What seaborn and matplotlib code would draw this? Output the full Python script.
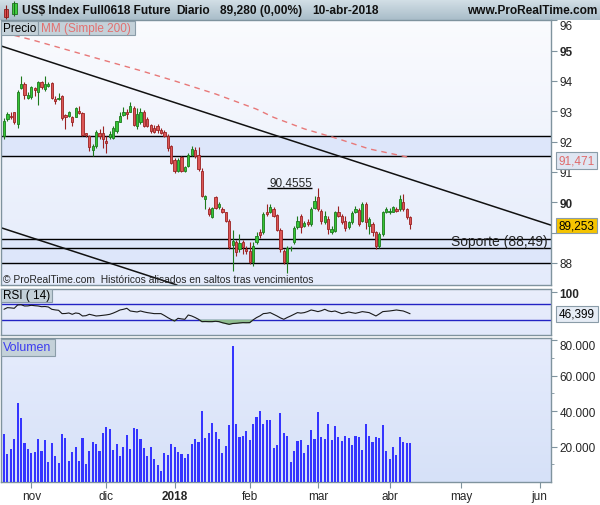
import numpy as np
import pandas as pd
import seaborn as sns
import matplotlib.pyplot as plt
from matplotlib.colors import LinearSegmentedColormap
from matplotlib.patches import Rectangle
from matplotlib.transforms import Affine2D

sns.set_style('white')
plt.rcParams['font.family'] = ['Liberation Sans', 'DejaVu Sans']

# trading days shown on the chart (holidays without a bar are skipped)
HOLIDAYS = ['2017-12-25', '2018-01-01', '2018-03-30']
dates = pd.bdate_range('2017-10-20', '2018-04-10', freq='C', holidays=HOLIDAYS)

opens = [92.20, 92.74, 92.85, 92.96, 92.58, 93.76, 93.90, 93.43, 93.46, 93.78,
         93.62, 93.95, 93.73, 93.84, 93.93, 93.42, 93.40, 93.51, 92.88, 92.85,
         92.80, 92.82, 93.02, 92.94, 92.27, 92.20, 91.72, 91.86, 92.27, 92.28,
         92.03, 92.14, 92.11, 92.36, 92.66, 92.88, 92.99, 92.99, 93.10, 92.50,
         92.63, 92.99, 92.74, 92.55, 92.44, 92.52, 92.39, 92.33, 92.20, 91.84,
         91.40, 91.04, 91.48, 91.04, 91.21, 91.56, 91.72, 91.56, 91.04, 90.11,
         89.78, 89.50, 90.16, 89.86, 89.78, 89.67, 89.40, 88.59, 88.68, 88.46,
         88.70, 88.46, 88.41, 88.02, 88.68, 89.01, 89.01, 89.69, 89.69, 89.78,
         89.58, 89.10, 88.41, 88.02, 88.48, 88.68, 89.17, 89.55, 89.23, 89.36,
         89.28, 89.80, 90.16, 89.72, 89.34, 89.45, 89.01, 89.06, 89.67, 89.56,
         89.39, 89.17, 89.34, 89.69, 89.75, 89.39, 89.94, 89.23, 89.28, 89.01,
         88.57, 88.95, 89.69, 89.67, 89.69, 89.78, 89.78, 90.00, 89.78, 89.50]
highs = [92.77, 92.99, 92.97, 92.99, 93.71, 94.17, 93.95, 93.62, 93.84, 93.80,
         94.01, 94.01, 94.17, 93.95, 93.95, 93.51, 93.61, 93.53, 92.91, 93.02,
         92.85, 93.13, 93.16, 92.96, 92.30, 92.22, 91.93, 92.39, 92.41, 92.50,
         92.20, 92.36, 92.53, 92.69, 92.96, 93.13, 93.07, 93.29, 93.18, 93.10,
         93.10, 93.05, 92.80, 92.58, 92.55, 92.58, 92.44, 92.37, 92.25, 91.89,
         91.45, 91.45, 91.53, 91.21, 91.64, 91.84, 91.81, 91.81, 91.12, 90.25,
         89.83, 89.86, 90.22, 90.00, 89.83, 89.69, 89.45, 89.09, 88.77, 88.95,
         88.77, 88.55, 88.68, 88.68, 89.01, 89.12, 89.69, 89.94, 89.94, 89.83,
         89.61, 89.14, 88.46, 88.57, 88.57, 89.23, 89.55, 89.61, 89.39, 89.45,
         89.83, 90.22, 90.46, 89.78, 89.72, 89.56, 89.23, 89.72, 89.89, 89.61,
         89.56, 89.39, 89.72, 89.89, 89.80, 90.00, 90.00, 89.50, 89.34, 89.06,
         89.01, 89.72, 89.83, 89.80, 89.89, 89.83, 90.24, 90.27, 89.80, 89.56]
lows = [92.09, 92.69, 92.74, 92.58, 92.44, 93.73, 93.40, 93.40, 93.40, 93.50,
        93.20, 93.73, 93.68, 93.79, 93.40, 93.24, 93.38, 92.72, 92.40, 92.80,
        92.53, 92.80, 92.91, 92.19, 92.14, 91.70, 91.51, 91.80, 92.09, 91.80,
        91.64, 92.09, 92.09, 92.30, 92.63, 92.85, 92.74, 92.96, 92.50, 92.41,
        92.58, 92.47, 92.47, 92.30, 92.28, 92.30, 92.25, 92.14, 91.70, 91.26,
        90.96, 90.99, 90.99, 90.99, 91.15, 91.51, 91.45, 91.04, 90.16, 89.77,
        89.56, 89.47, 89.77, 89.77, 89.65, 89.34, 88.46, 87.74, 88.24, 88.37,
        88.29, 88.30, 87.96, 87.91, 88.62, 88.84, 88.95, 89.56, 89.65, 89.50,
        89.06, 88.35, 87.96, 87.68, 88.40, 88.62, 89.12, 89.00, 89.17, 89.23,
        89.23, 89.78, 89.72, 89.28, 89.28, 88.95, 88.95, 89.01, 89.50, 89.28,
        89.06, 89.12, 89.28, 89.64, 89.23, 89.34, 89.12, 88.95, 88.90, 88.46,
        88.51, 88.90, 89.64, 89.61, 89.67, 89.67, 89.72, 89.72, 89.45, 89.12]
closes = [92.69, 92.91, 92.80, 92.63, 93.62, 93.90, 93.54, 93.54, 93.79, 93.69,
          93.95, 93.79, 93.90, 93.90, 93.43, 93.35, 93.45, 92.77, 92.80, 92.96,
          92.66, 93.10, 92.94, 92.22, 92.22, 91.81, 91.86, 92.32, 92.20, 92.09,
          91.95, 92.25, 92.44, 92.67, 92.85, 92.99, 92.91, 93.16, 92.55, 92.91,
          92.99, 92.52, 92.52, 92.36, 92.33, 92.39, 92.30, 92.20, 91.78, 91.30,
          91.04, 91.40, 91.04, 91.15, 91.56, 91.75, 91.53, 91.10, 90.22, 90.22,
          89.61, 89.80, 89.80, 89.94, 89.69, 89.40, 88.52, 88.73, 88.37, 88.66,
          88.52, 88.41, 88.02, 88.55, 88.90, 88.93, 89.61, 89.61, 89.86, 89.56,
          89.10, 88.46, 88.02, 88.51, 88.51, 89.14, 89.39, 89.17, 89.31, 89.28,
          89.78, 90.05, 89.78, 89.39, 89.56, 89.12, 89.12, 89.67, 89.56, 89.34,
          89.14, 89.34, 89.64, 89.78, 89.28, 89.94, 89.34, 89.45, 89.01, 88.57,
          88.95, 89.67, 89.78, 89.72, 89.83, 89.72, 90.11, 89.78, 89.50, 89.28]
volumes = [27200, 16000, 18800, 24400, 44700, 36200, 22200, 18800, 16500, 17100,
           24400, 17700, 23900, 11500, 22200, 14800, 10900, 27200, 25000, 12000,
           17100, 19900, 12000, 25000, 10300, 17700, 22700, 21600, 17700, 27800,
           31200, 30000, 18200, 21600, 14800, 19900, 26700, 18800, 30600, 30000,
           24400, 19300, 14800, 19900, 13100, 9800, 6400, 16500, 15400, 21600,
           19900, 17100, 16000, 13700, 16000, 21600, 24400, 22700, 40200, 25000,
           27800, 33400, 28400, 24400, 16500, 20500, 32300, 76800, 32900, 25500,
           26100, 28900, 23900, 32900, 36800, 40200, 32900, 35100, 35100, 19300,
           21000, 39100, 27800, 26100, 11500, 17700, 23300, 23900, 16500, 21000,
           29500, 24400, 39600, 25500, 24400, 32900, 23900, 31700, 25500, 23300,
           26100, 25000, 21000, 26100, 25500, 18200, 32900, 26100, 22700, 25500,
           25000, 32300, 17700, 13100, 19900, 15400, 25500, 22700, 22200, 22200]
rsi = [57.5, 61.7, 61.0, 60.0, 68.3, 69.0, 65.8, 66.0, 67.5, 66.5,
       65.8, 64.0, 64.5, 63.3, 57.5, 56.0, 55.0, 46.7, 47.0, 48.3,
       45.0, 48.3, 47.0, 40.8, 41.5, 45.0, 43.0, 40.8, 41.5, 42.5,
       43.5, 45.0, 48.0, 51.7, 55.8, 57.5, 60.0, 53.3, 52.0, 50.8,
       53.3, 51.0, 49.2, 48.0, 46.7, 46.7, 46.7, 42.0, 36.7, 32.0,
       28.3, 35.0, 33.5, 32.5, 43.3, 40.8, 37.0, 32.5, 26.7, 27.0,
       26.7, 26.7, 27.5, 26.7, 24.0, 22.0, 20.0, 22.0, 22.5, 23.5,
       24.2, 24.0, 24.2, 31.0, 36.7, 41.0, 46.7, 47.5, 49.2, 45.0,
       40.8, 36.0, 32.5, 37.0, 40.8, 45.0, 49.2, 48.0, 49.2, 52.0,
       55.8, 54.0, 51.7, 54.0, 57.5, 53.5, 51.7, 53.3, 50.0, 46.7,
       48.5, 50.8, 49.0, 47.5, 49.5, 51.7, 50.5, 49.2, 45.0, 40.8,
       46.0, 51.7, 52.5, 53.3, 54.5, 55.8, 54.5, 53.3, 50.0, 46.4]

sma_dates = ['2017-10-25', '2017-11-01', '2017-11-29', '2017-12-15', '2018-01-02',
             '2018-01-18', '2018-02-05', '2018-02-12', '2018-02-23', '2018-03-09',
             '2018-03-22', '2018-04-06', '2018-04-10']
sma_values = [95.50, 95.36, 94.72, 94.34, 94.00, 93.57, 93.07, 92.80, 92.42, 92.09,
              91.76, 91.52, 91.47]

zone_levels = [92.17, 91.52, 88.79, 88.49, 88.0]
trend_upper = [('2017-10-20', 95.12), ('2018-04-10', 90.76)]
trend_lower = [('2017-10-20', 89.13), ('2018-01-02', 87.30)]
peak_dates = ['2018-02-08', '2018-02-27']
peak_level = 90.4555

month_starts = ['2017-11-01', '2017-12-01', '2018-01-02', '2018-02-01', '2018-03-01',
                '2018-04-02', '2018-05-01', '2018-06-01']
month_labels = ['nov', 'dic', '2018', 'feb', 'mar', 'abr', 'may', 'jun']


def to_pos(d):
    # bar index on the trading-day axis
    d = np.asarray(d, dtype='datetime64[D]')
    return np.busday_count(np.datetime64('2017-10-20'), d,
                           holidays=np.array(HOLIDAYS, dtype='datetime64[D]'))


pos = to_pos(dates.values.astype('datetime64[D]'))
o, h, l, c = map(np.asarray, (opens, highs, lows, closes))
rsi = np.asarray(rsi)

W, H = 600, 506
fig = plt.figure(figsize=(6, 5.06), dpi=100)
px = Affine2D().scale(1 / W, -1 / H).translate(0, 1) + fig.transFigure


def frame(x0, y0, x1, y1):
    return [x0 / W, 1 - y1 / H, (x1 - x0) / W, (y1 - y0) / H]


def gradient(ax, top, bottom):
    cmap = LinearSegmentedColormap.from_list('bg', [bottom, top])
    ax.imshow(np.linspace(0, 1, 64).reshape(-1, 1), cmap=cmap, origin='lower',
              extent=[0, 1, 0, 1], transform=ax.transAxes, aspect='auto', zorder=0)


def box(x0, y0, x1, y1, fill, edge='#8a9ca8'):
    fig.add_artist(Rectangle((x0, y0), x1 - x0, y1 - y0, transform=px,
                             facecolor=fill, edgecolor=edge, lw=0.8, zorder=5))


def label(x, y, s, color='black', size=8.5, ha='left', weight='normal'):
    fig.text(x, y, s, transform=px, color=color, fontsize=size, ha=ha, va='center',
             fontweight=weight, zorder=6)


XLIM = (-0.88, 160.3)
GRAY = '#7f939e'

# title bar
ax_t = fig.add_axes(frame(0, 0, 600, 21))
ax_t.imshow(np.linspace(0, 1, 32).reshape(-1, 1),
            cmap=LinearSegmentedColormap.from_list('tb', ['#d4e0e7', '#a9bdc9']),
            extent=[0, 600, 21, 0], aspect='auto')
ax_t.set_xlim(0, 600)
ax_t.set_ylim(21, 0)
ax_t.axis('off')
ax_t.vlines([5.5, 14], [6, 1.5], [20, 17], colors=['#8b1c1c', '#1c6e1c'], lw=0.8)
ax_t.add_patch(Rectangle((3.5, 9.5), 4.5, 8.5, facecolor='#e05050', edgecolor='#8b1c1c', lw=0.6))
ax_t.add_patch(Rectangle((11.5, 3.5), 5, 11, facecolor='#40d040', edgecolor='#1c6e1c', lw=0.6))
for x, s in [(22, 'US$ Index Full0618 Future'), (176, 'Diario'),
             (220, '89,280 (0,00%)'), (312, '10-abr-2018')]:
    ax_t.text(x, 11, s, fontsize=8.6, fontweight='bold', va='center', color='#111111')
ax_t.text(597, 11, 'www.ProRealTime.com', fontsize=8.6, fontweight='bold', va='center',
          ha='right', color='#111111')

# price panel
ax_p = fig.add_axes(frame(1, 21, 551, 286))
gradient(ax_p, '#fafbfe', '#e4ebfb')
ax_p.axhspan(zone_levels[1], zone_levels[0], color='#dde6fa', zorder=0.5)
ax_p.axhspan(zone_levels[4], zone_levels[2], color='#dde6fa', zorder=0.5)
for y in zone_levels:
    ax_p.axhline(y, color='black', lw=1, zorder=2)
(ua, ub), (la, lb) = trend_upper, trend_lower
ax_p.axline((to_pos(ua[0]), ua[1]), (to_pos(ub[0]), ub[1]), color='#111111', lw=1.1, zorder=2)
ax_p.axline((to_pos(la[0]), la[1]), (to_pos(lb[0]), lb[1]), color='#111111', lw=1.1, zorder=2)
sns.lineplot(x=to_pos(sma_dates), y=sma_values, ax=ax_p, color='#e87878', lw=1,
             linestyle=(0, (4, 3.5)), zorder=2)

up = c >= o
edge = np.where(up, '#1d7a1d', '#9b2222')
ax_p.vlines(pos, l, h, colors=edge, lw=0.8, zorder=3)
ax_p.bar(pos, np.maximum(np.abs(c - o), 0.025), bottom=np.minimum(o, c), width=0.66,
         color=np.where(up, '#36c436', '#dc5656'), edgecolor=edge, lw=0.6, zorder=4)

p0, p1 = to_pos(peak_dates)
ax_p.hlines(peak_level, p0, p1 + 0.2, color='black', lw=1, zorder=3)
ax_p.text((p0 + p1) / 2 + 0.5, peak_level + 0.21, '90,4555', fontsize=8.5, ha='center', va='center')
ax_p.text(0.994, 88.725, 'Soporte (88,49)', transform=ax_p.get_yaxis_transform(),
          fontsize=10, ha='right', va='center', color='#222222', zorder=5)
ax_p.text(0.004, 0.024, '© ProRealTime.com  Históricos alisados en saltos tras vencimientos',
          transform=ax_p.transAxes, fontsize=7.4, va='center', zorder=5)

ax_p.set_xlim(*XLIM)
ax_p.set_ylim(87.275, 96.007)
ax_p.set_xticks([])
price_ticks = list(range(88, 97))
ax_p.yaxis.tick_right()
# the 89 label sits under the trend-line flag, so it is left blank
ax_p.set_yticks(price_ticks, labels=['' if t == 89 else str(t) for t in price_ticks])
for t in ax_p.get_yticklabels():
    if t.get_text() in ('90', '95'):
        t.set_fontweight('bold')
    if t.get_text() == '96':
        t.set_va('top')

# RSI panel
ax_r = fig.add_axes(frame(1, 290, 551, 336))
gradient(ax_r, '#e9eefc', '#e2e9fb')
ax_r.axhline(70, color='#2323c4', lw=1, zorder=2)
ax_r.axhline(30, color='#2323c4', lw=1, zorder=2)
ax_r.fill_between(pos, rsi, 30, where=rsi < 30, interpolate=True, color='#8fbd8f', zorder=2)
sns.lineplot(x=pos, y=rsi, ax=ax_r, color='#1a1a1a', lw=0.8, zorder=3)
ax_r.set_xlim(*XLIM)
ax_r.set_ylim(-6.75, 108.25)
ax_r.set_xticks([])
ax_r.yaxis.tick_right()
ax_r.set_yticks([100], labels=['100'])
ax_r.get_yticklabels()[0].set_fontweight('bold')

# volume panel
ax_v = fig.add_axes(frame(1, 339, 551, 483))
gradient(ax_v, '#e6ecfc', '#d6e1f8')
ax_v.bar(pos, volumes, width=0.62, color='#3535ff', lw=0, antialiased=False, zorder=3)
ax_v.set_xlim(*XLIM)
ax_v.set_ylim(0, 81130)
ax_v.yaxis.tick_right()
vol_ticks = [20000, 40000, 60000, 80000]
ax_v.set_yticks(vol_ticks, labels=[f'{v // 1000}.000' for v in vol_ticks])
ax_v.set_yticks([10000, 30000, 50000, 70000], minor=True)
ax_v.get_yticklabels()[-1].set_va('top')
ax_v.set_xticks(to_pos(month_starts), labels=month_labels)
ax_v.get_xticklabels()[2].set_fontweight('bold')
ax_v.tick_params(axis='x', direction='out', length=4, color=GRAY, labelsize=8.5, pad=2,
                 bottom=True)
ax_v.tick_params(axis='y', which='minor', direction='out', length=2, color=GRAY, right=True)

for ax in (ax_p, ax_r, ax_v):
    ax.set_xlabel('')
    ax.set_ylabel('')
    ax.tick_params(axis='y', which='major', direction='out', length=4, color=GRAY,
                   labelsize=8.5, pad=2, right=True)
    for side in ax.spines.values():
        side.set_color(GRAY)
        side.set_linewidth(1)
        side.set_visible(True)

# legend tabs and value flags
box(1, 22, 38, 36, '#c4d1d9')
box(38, 22, 135, 36, '#c4d1d9')
label(3, 29, 'Precio')
label(41, 29, 'MM (Simple 200)', color='#e27070')
box(1, 290, 52, 303, '#c4d1d9')
label(3, 296.5, 'RSI ( 14)')
box(1, 340, 55, 357, '#c4d1d9')
label(3, 348.5, 'Volumen', color='#3c3cf0', size=9)
box(556, 153, 597, 170, '#dfe6f2')
label(576.5, 161.5, '91,471', color='#e06a6a', ha='center')
box(556, 219, 597, 234, '#f5c400')
label(576.5, 226.5, '89,253', ha='center')
box(556, 307, 598, 323, '#e6ecf5')
label(577, 315, '46,399', ha='center')

plt.savefig('out.png', dpi=100)
plt.close()
